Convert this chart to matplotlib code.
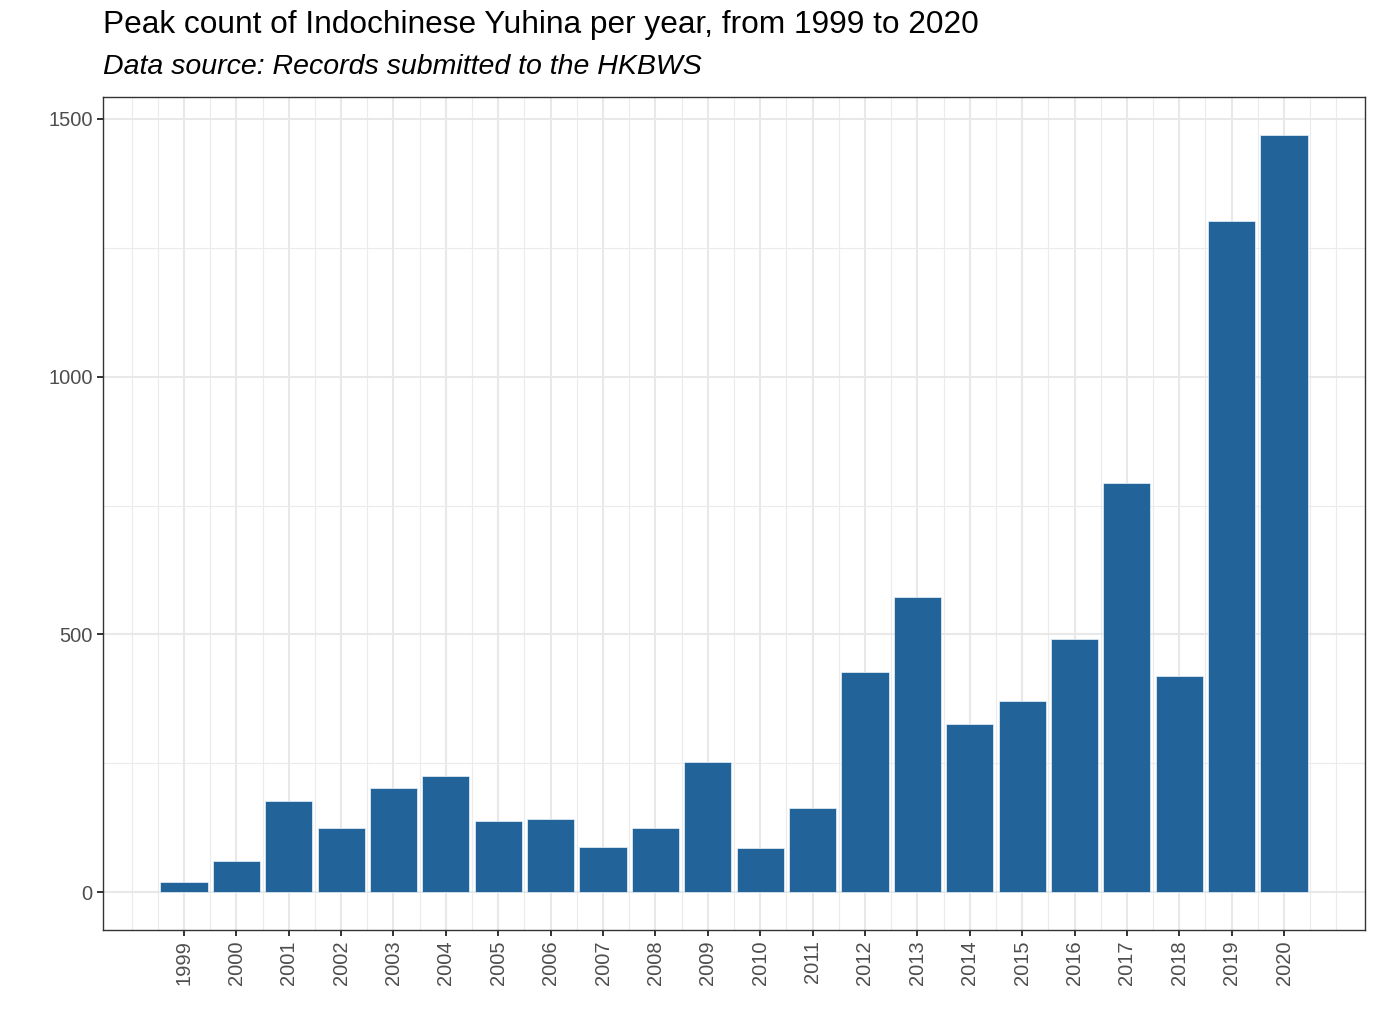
import numpy as np
import matplotlib
matplotlib.use("Agg")
import matplotlib.pyplot as plt

# peak counts
years = list(range(1999, 2021))
counts = [19, 61, 177, 125, 202, 226, 138, 142, 88, 125, 253,
          86, 164, 427, 572, 326, 370, 492, 793, 419, 1302, 1469]
y_ticks = [0, 500, 1000, 1500]

plt.rcParams['font.family'] = ['Liberation Sans', 'DejaVu Sans']

fig = plt.figure(figsize=(13.79, 10.34), dpi=100)
ax = fig.add_axes([103 / 1379, 1 - 930 / 1034, (1365 - 103) / 1379, (930 - 97) / 1034])

ax.bar(years, counts, width=0.9, color='#22649a', edgecolor='#e8f2fa', linewidth=0.5, zorder=3)

# ggplot-style limits with 5% expansion
xmin, xmax = years[0] - 0.45, years[-1] + 0.45
xpad = (xmax - xmin) * 0.05
ax.set_xlim(xmin - xpad, xmax + xpad)
ymax = max(counts)
ax.set_ylim(-ymax * 0.05, ymax * 1.05)

ax.set_xticks(years)
ax.set_xticklabels([str(y) for y in years], rotation=90)
ax.set_yticks(y_ticks)
ax.set_yticklabels([str(v) for v in y_ticks])

# grid lines like theme_bw
for x in years:
    ax.axvline(x, color='#e8e8e8', lw=1.5, zorder=1)
for x in np.arange(years[0] - 1, years[-1] + 1.5, 0.5):
    if x in years:
        continue
    ax.axvline(x, color='#ebebeb', lw=0.8, zorder=1)
for y in y_ticks:
    ax.axhline(y, color='#e8e8e8', lw=1.5, zorder=1)
for y in [250, 750, 1250]:
    ax.axhline(y, color='#ebebeb', lw=0.8, zorder=1)

for s in ax.spines.values():
    s.set_color('#333333')
    s.set_linewidth(1.0)

ax.tick_params(axis='both', colors='#333333', length=4.5, width=1.4, labelsize=14.5,
               labelcolor='#4d4d4d', pad=3)

fig.text(103 / 1379, 1 - 25 / 1034, 'Peak count of Indochinese Yuhina per year, from 1999 to 2020',
         fontsize=22.8, va='center', ha='left', color='black')
fig.text(103 / 1379, 1 - 67 / 1034, 'Data source: Records submitted to the HKBWS',
         fontsize=20.5, style='italic', va='center', ha='left', color='black')

fig.savefig('out.png', dpi=100)
